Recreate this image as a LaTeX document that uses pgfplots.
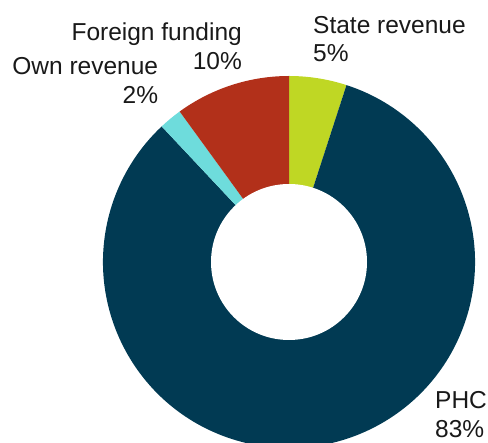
\documentclass[border=0pt]{standalone}
\usepackage{pgfplots}
\usepackage{pgfplotstable}
\pgfplotsset{compat=1.18}
\usepackage{fontspec}
\setmainfont{Liberation Sans}
\definecolor{cState}{HTML}{BFD724}
\definecolor{cPHC}{HTML}{013A53}
\definecolor{cOwn}{HTML}{6EDCDC}
\definecolor{cForeign}{HTML}{B2301A}
\pgfplotstableread{
label value color
State 5 cState
PHC 83 cPHC
Own 2 cOwn
Foreign 10 cForeign
}\slices
\tikzset{lab/.style={inner sep=0pt, font=\fontsize{24.5bp}{28.5bp}\selectfont, text=black!90}}
\begin{document}
\begin{tikzpicture}
\begin{axis}[
  at={(0,0)}, anchor=south west,
  width=488bp, height=443bp, scale only axis,
  xmin=0, xmax=488, ymin=0, ymax=443,
  hide axis,
  clip=true,
]
\addplot[draw=none] coordinates {(0,0) (488,443)};
\pgfmathsetmacro{\cum}{0}
\pgfplotsforeachungrouped \i in {0,...,3}{%
  \pgfplotstablegetelem{\i}{value}\of\slices \let\v\pgfplotsretval
  \pgfplotstablegetelem{\i}{color}\of\slices \let\c\pgfplotsretval
  \pgfmathsetmacro{\a}{90-3.6*\cum}%
  \pgfmathsetmacro{\b}{90-3.6*(\cum+\v)}%
  \edef\temp{\noexpand\fill[\c] (axis cs:289,181) -- ++(\a:186bp) arc[start angle=\a, end angle=\b, radius=186bp] -- cycle;}%
  \temp
  \pgfmathsetmacro{\cum}{\cum+\v}%
}
\fill[white] (axis cs:289,181) circle[radius=78bp];
\node[lab, anchor=base west] at (axis cs:313,409.7) {State revenue};
\node[lab, anchor=base west] at (axis cs:313,381.3) {5\%};
\node[lab, anchor=base east] at (axis cs:242,402.5) {Foreign funding};
\node[lab, anchor=base east] at (axis cs:242,373.5) {10\%};
\node[lab, anchor=base east] at (axis cs:158.3,368) {Own revenue};
\node[lab, anchor=base east] at (axis cs:158.3,339.7) {2\%};
\node[lab, anchor=base west] at (axis cs:435,34) {PHC};
\node[lab, anchor=base west] at (axis cs:435,6) {83\%};
\end{axis}
\pgfresetboundingbox
\path[use as bounding box] (0,0) rectangle (488bp,443bp);
\end{tikzpicture}
\end{document}
